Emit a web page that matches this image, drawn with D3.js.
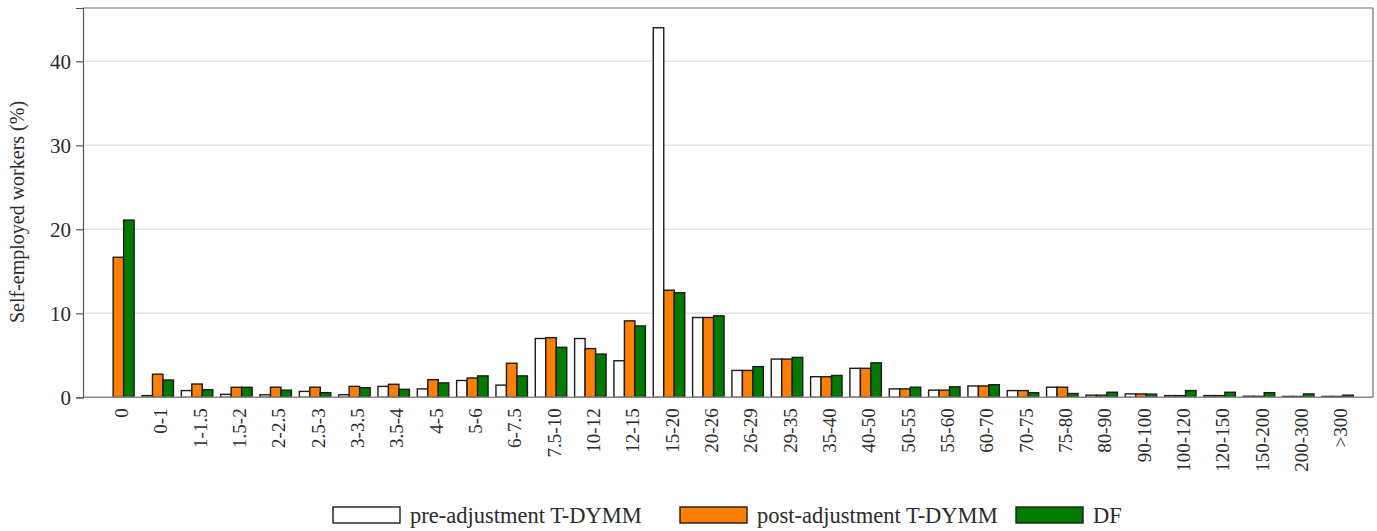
<!DOCTYPE html>
<html>
<head>
<meta charset="utf-8">
<script src="https://cdn.jsdelivr.net/npm/d3@7"></script>
<style>
  html, body { margin: 0; padding: 0; background: #fff; }
  svg { display: block; }
  svg text { font-family: 'Liberation Serif', 'DejaVu Serif', serif; fill: #2b2b2b; }
</style>
</head>
<body>
<svg id="chart" width="1377" height="531"></svg>
<script>
// Income bands (thousand euro)
const categories = ["0", "0-1", "1-1.5", "1.5-2", "2-2.5", "2.5-3", "3-3.5", "3.5-4", "4-5", "5-6",
  "6-7.5", "7.5-10", "10-12", "12-15", "15-20", "20-26", "26-29", "29-35", "35-40", "40-50",
  "50-55", "55-60", "60-70", "70-75", "75-80", "80-90", "90-100", "100-120", "120-150",
  "150-200", "200-300", ">300"];

// Share of self-employed workers (%) per band
const preAdjustment = [0, 0.2, 0.8, 0.35, 0.3, 0.7, 0.3, 1.3, 1.0, 2.0,
  1.45, 7.0, 7.0, 4.35, 44.0, 9.5, 3.2, 4.55, 2.45, 3.45,
  1.0, 0.85, 1.35, 0.8, 1.2, 0.25, 0.4, 0.2, 0.2, 0.12, 0.1, 0.1];
const postAdjustment = [16.67, 2.75, 1.58, 1.19, 1.2, 1.2, 1.3, 1.55, 2.1, 2.3,
  4.05, 7.1, 5.8, 9.1, 12.75, 9.5, 3.2, 4.55, 2.45, 3.45,
  1.0, 0.85, 1.35, 0.8, 1.2, 0.25, 0.4, 0.2, 0.2, 0.12, 0.1, 0.1];
const dfValues = [21.1, 2.06, 0.9, 1.19, 0.85, 0.55, 1.15, 0.95, 1.72, 2.55,
  2.55, 5.95, 5.15, 8.5, 12.45, 9.7, 3.65, 4.75, 2.6, 4.1,
  1.2, 1.25, 1.5, 0.55, 0.45, 0.6, 0.38, 0.8, 0.6, 0.55, 0.4, 0.25];

const seriesNames = ["pre-adjustment T-DYMM", "post-adjustment T-DYMM", "DF"];
const seriesColors = ["#ffffff", "#ff8000", "#007a00"];
const yTicks = [0, 10, 20, 30, 40];

const series = [preAdjustment, postAdjustment, dfValues];
const serifFont = "'Liberation Serif', 'DejaVu Serif', serif";

const svg = d3.select("#chart");
const plotLeft = 83, plotRight = 1373, plotTop = 8, plotBottom = 397.3;

const x = d3.scaleBand().domain(categories).range([plotLeft, plotRight])
  .paddingInner(0.2).paddingOuter(0.5);
const xs = d3.scaleBand().domain(d3.range(series.length)).range([0, x.bandwidth()]);
const y = d3.scaleLinear().domain([0, 46.35]).range([plotBottom, plotTop]);

// gridlines
svg.append("g").selectAll("line")
  .data(yTicks.filter(d => d > 0))
  .join("line")
  .attr("x1", plotLeft).attr("x2", plotRight)
  .attr("y1", d => y(d)).attr("y2", d => y(d))
  .attr("stroke", "#e3e3e3").attr("stroke-width", 1.5);

// frame: top and right edges
svg.append("path")
  .attr("d", `M${plotLeft},${plotTop}H${plotRight}V${plotBottom}`)
  .attr("fill", "none").attr("stroke", "#6e6e6e").attr("stroke-width", 1.2);

// bars
const groups = svg.append("g").selectAll("g")
  .data(categories)
  .join("g")
  .attr("transform", d => `translate(${x(d)},0)`);

groups.selectAll("rect")
  .data((d, i) => series.map((s, k) => ({ k, v: s[i] })))
  .join("rect")
  .attr("x", d => xs(d.k))
  .attr("width", xs.bandwidth())
  .attr("y", d => y(d.v))
  .attr("height", d => y(0) - y(d.v))
  .attr("fill", d => seriesColors[d.k])
  .attr("stroke", "#1c1c1c")
  .attr("stroke-width", 1.4);

// baseline
svg.append("line")
  .attr("x1", plotLeft).attr("x2", plotRight)
  .attr("y1", plotBottom).attr("y2", plotBottom)
  .attr("stroke", "#8a8a8a").attr("stroke-width", 1.5);

// y axis
const yAxis = svg.append("g")
  .attr("transform", `translate(${plotLeft},0)`)
  .call(d3.axisLeft(y).tickValues(yTicks).tickSize(7).tickPadding(5));
yAxis.attr("font-family", null).attr("font-size", null);
yAxis.select(".domain").attr("stroke", "#555").attr("stroke-width", 1.2);
yAxis.selectAll(".tick line").attr("stroke", "#555").attr("stroke-width", 1.2);
yAxis.selectAll(".tick text")
  .style("font-family", serifFont)
  .style("font-size", "21px").style("fill", "#2b2b2b");

// x labels, rotated
svg.append("g").selectAll("text")
  .data(categories)
  .join("text")
  .attr("transform", d => `translate(${x(d) + x.bandwidth() / 2 + 3},${plotBottom + 11}) rotate(-90)`)
  .attr("text-anchor", "end")
  .attr("dy", "0.35em")
  .style("font-family", serifFont)
  .style("font-size", "19px")
  .text(d => d);

// y title
svg.append("text")
  .attr("transform", `translate(24,212) rotate(-90)`)
  .attr("text-anchor", "middle")
  .style("font-family", serifFont)
  .style("font-size", "20px")
  .text("Self-employed workers (%)");

// legend
const legendX = [333, 680, 1016];
const legend = svg.append("g").selectAll("g")
  .data(seriesNames)
  .join("g")
  .attr("transform", (d, i) => `translate(${legendX[i]},507)`);
legend.append("rect")
  .attr("width", 67).attr("height", 16)
  .attr("fill", (d, i) => seriesColors[i])
  .attr("stroke", "#1c1c1c").attr("stroke-width", 1.4);
legend.append("text")
  .attr("x", 77).attr("y", 16)
  .style("font-family", serifFont)
  .style("font-size", "22.5px")
  .text(d => d);
</script>
</body>
</html>
